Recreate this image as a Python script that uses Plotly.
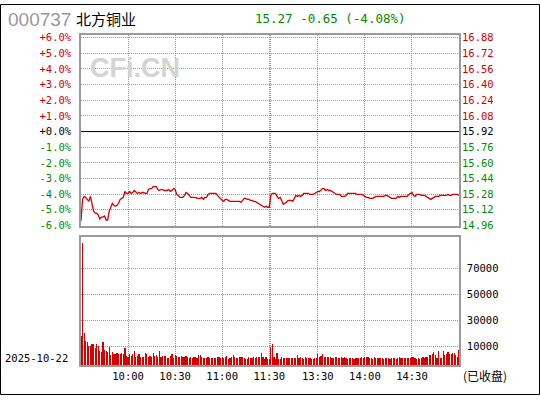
import plotly.graph_objects as go

# ---------------- data ----------------
CODE = "000737"
NAME = "北方铜业"
DATE = "2025-10-22"
STATUS = "(已收盘)"
PREV_CLOSE = 15.92
LAST = 15.27
CHANGE = -0.65
CHANGE_PCT = -4.08

# minute slots: 9:30..11:30 -> 0..120, 13:00..15:00 -> 121..241
TIME_TICKS = [30, 60, 90, 120, 121, 151, 181, 211]
TIME_LABELS = ["10:00", "10:30", "11:00", "11:30", "", "13:30", "14:00", "14:30"]

PCT_LEVELS = [6, 5, 4, 3, 2, 1, 0, -1, -2, -3, -4, -5, -6]
PCT_LABELS = ["+6.0%", "+5.0%", "+4.0%", "+3.0%", "+2.0%", "+1.0%", "+0.0%",
              "-1.0%", "-2.0%", "-3.0%", "-4.0%", "-5.0%", "-6.0%"]
PRICE_LABELS = ["16.88", "16.72", "16.56", "16.40", "16.24", "16.08", "15.92",
                "15.76", "15.60", "15.44", "15.28", "15.12", "14.96"]

VOL_TICKS = [10000, 30000, 50000, 70000]
VOL_LABELS = ["10000", "30000", "50000", "70000"]

PRICE_AM = [
    15.01, 15.23, 15.26, 15.25, 15.23, 15.21, 15.26, 15.19, 15.11, 15.09,
    15.09, 15.07, 15.03, 15.05, 15.05, 15.06, 15.02, 15.02, 15.11, 15.15,
    15.19, 15.17, 15.16, 15.17, 15.19, 15.23, 15.24, 15.25, 15.31, 15.29,
    15.29, 15.31, 15.29, 15.30, 15.32, 15.30, 15.29, 15.30, 15.29, 15.30,
    15.30, 15.29, 15.29, 15.33, 15.34, 15.34, 15.36, 15.36, 15.36, 15.33,
    15.32, 15.33, 15.33, 15.32, 15.32, 15.32, 15.33, 15.31, 15.32, 15.34,
    15.33, 15.28, 15.27, 15.25, 15.25, 15.25, 15.27, 15.30, 15.29, 15.27,
    15.25, 15.25, 15.25, 15.25, 15.24, 15.24, 15.24, 15.25, 15.23, 15.25,
    15.25, 15.28, 15.29, 15.29, 15.29, 15.29, 15.29, 15.27, 15.25, 15.23,
    15.22, 15.21, 15.23, 15.23, 15.22, 15.21, 15.21, 15.21, 15.21, 15.21,
    15.21, 15.21, 15.20, 15.22, 15.24, 15.24, 15.23, 15.23, 15.22, 15.22,
    15.21, 15.21, 15.20, 15.19, 15.18, 15.17, 15.16, 15.15, 15.16, 15.15,
    15.15,
]
PRICE_PM = [
    15.27, 15.29, 15.29, 15.29, 15.26, 15.24, 15.25, 15.22, 15.18, 15.19,
    15.20, 15.22, 15.22, 15.22, 15.21, 15.25, 15.27, 15.26, 15.27, 15.26,
    15.27, 15.29, 15.29, 15.29, 15.29, 15.28, 15.28, 15.28, 15.29, 15.30,
    15.31, 15.31, 15.33, 15.34, 15.34, 15.32, 15.33, 15.32, 15.32, 15.31,
    15.30, 15.29, 15.28, 15.28, 15.28, 15.26, 15.26, 15.26, 15.27, 15.29,
    15.29, 15.29, 15.29, 15.29, 15.29, 15.28, 15.28, 15.28, 15.28, 15.27,
    15.26, 15.25, 15.25, 15.24, 15.24, 15.24, 15.25, 15.26, 15.26, 15.26,
    15.26, 15.26, 15.26, 15.27, 15.27, 15.26, 15.25, 15.24, 15.24, 15.24,
    15.24, 15.26, 15.25, 15.26, 15.26, 15.26, 15.26, 15.26, 15.28, 15.29,
    15.30, 15.27, 15.26, 15.28, 15.28, 15.28, 15.27, 15.27, 15.27, 15.26,
    15.25, 15.24, 15.23, 15.24, 15.25, 15.26, 15.26, 15.26, 15.27, 15.27,
    15.27, 15.27, 15.27, 15.28, 15.27, 15.27, 15.28, 15.28, 15.28, 15.28,
    15.27,
]

VOL_AM = [
    18200, 89200, 20500, 14500, 13700, 10800, 10800, 12300, 12300, 9300,
    12300, 10800, 7000, 6300, 13700, 7800, 7000, 6300, 10000, 4000,
    6300, 4800, 4800, 5500, 4800, 4800, 5500, 4800, 9300, 3300,
    2500, 4800, 3300, 4800, 6500, 2500, 3300, 4800, 2500, 2000,
    2500, 5000, 4800, 2500, 2800, 2500, 5000, 2800, 3500, 2500,
    6500, 2300, 3100, 3100, 3100, 1600, 1600, 3100, 4300, 1600,
    3500, 3100, 2300, 2300, 3100, 2300, 2300, 2800, 2300, 1800,
    2300, 1600, 2300, 2300, 1600, 3500, 3500, 2000, 1600, 1800,
    1600, 2000, 1600, 1600, 1600, 1600, 1600, 2000, 2000, 1600,
    2000, 1600, 2000, 3300, 1000, 1600, 2000, 3800, 2000, 1600,
    1600, 2000, 2000, 2000, 1600, 1000, 1000, 2000, 1600, 1600,
    2000, 1600, 2000, 2300, 2500, 5000, 2000, 1000, 2000, 1000,
    500,
]
VOL_PM = [
    9800, 12500,
    2000, 800, 5000, 1000, 800, 2500, 1600, 1600, 1600, 1600,
    1600, 1600, 1600, 1600, 1600, 3500, 1600, 2500, 1600, 1000,
    2000, 1600, 1600, 1600, 1000, 1000, 1600, 1600, 4300, 2500,
    3100, 4300, 2000, 2000, 2000, 2000, 2000, 1600, 1600, 2000,
    2000, 1600, 1600, 2000, 1600, 2000, 1600, 1000, 1600, 1600,
    1600, 1000, 1600, 1600, 1600, 1600, 2000, 1600, 2000, 2000,
    2000, 1600, 1600, 1000, 2000, 1600, 1600, 1600, 1600, 1600,
    1000, 1600, 1600, 1600, 1000, 1600, 1600, 1600, 1000, 1600,
    2000, 1600, 1600, 1600, 1600, 1600, 1600, 1600, 2000, 2000,
    1600, 1000, 1600, 1000, 1600, 2000, 1600, 2000, 2000, 3500,
    4000, 4600, 5800, 4000, 1500, 6500, 1500, 1500, 6500, 4000,
    4800, 5800, 4600, 4300, 5000, 5000, 4000, 2500, 7500,
]

# ---------------- styling / layout ----------------
W, H = 540, 400
PLOT_L, PLOT_R = 81, 459
PRICE_TOP, PRICE_BOT = 32, 227
VOL_TOP, VOL_BOT = 238, 369.3
PCT_RANGE = (-6.03, 6.155)          # visible percent range of the price panel
VOL_RANGE = (-4200, 94000)          # visible range of the volume panel

RED = "#d40000"
GREEN = "#008c00"
TXT_RED = "#d00000"
GRID = "#999999"
FRAME = "#9a9a9a"
MONO = "DejaVu Sans Mono"
CJK = "Noto Sans CJK SC"


def px_x(x):
    return (x - PLOT_L) / (PLOT_R - PLOT_L)


def px_y(y):
    return 1 - y / H


price = PRICE_AM + PRICE_PM
volume = VOL_AM + VOL_PM
assert len(price) == 242 and len(volume) == 242
slots = list(range(len(price)))
x_max = len(price) - 1

levels = [PREV_CLOSE * (1 + p / 100) for p in PCT_LEVELS]
p_lo = PREV_CLOSE * (1 + PCT_RANGE[0] / 100)
p_hi = PREV_CLOSE * (1 + PCT_RANGE[1] / 100)


def colour_for(p):
    return TXT_RED if p > 0 else ("#000000" if p == 0 else GREEN)


pct_text = [f'<span style="color:{colour_for(p)}">{t}</span>' for p, t in zip(PCT_LEVELS, PCT_LABELS)]
price_text = [f'<span style="color:{colour_for(p)}">{t}</span>' for p, t in zip(PCT_LEVELS, PRICE_LABELS)]

fig = go.Figure()
fig.add_trace(go.Scatter(x=slots, y=price, mode="lines", line=dict(color=RED, width=1.3),
                         xaxis="x", yaxis="y", hoverinfo="skip"))
fig.add_trace(go.Scatter(x=[0, x_max], y=[p_lo, p_hi], mode="markers", marker=dict(opacity=0),
                         xaxis="x", yaxis="y3", hoverinfo="skip"))
fig.add_trace(go.Bar(x=slots, y=[v - VOL_RANGE[0] for v in volume], base=VOL_RANGE[0], width=0.12,
                     marker=dict(color=RED, line=dict(width=0)), xaxis="x2", yaxis="y2",
                     hoverinfo="skip"))

grid = dict(showgrid=True, gridcolor=GRID, gridwidth=1, griddash="1px,1px")
frame = dict(showline=True, linecolor=FRAME, linewidth=1.5, mirror=True, zeroline=False, ticks="")
tick_font = dict(family=MONO, size=10.5, color="#000000")

fig.update_layout(
    width=W, height=H, margin=dict(l=PLOT_L, r=W - PLOT_R, t=0, b=0, pad=0),
    paper_bgcolor="white", plot_bgcolor="white", showlegend=False, hovermode=False,
    bargap=0, bargroupgap=0,
    xaxis=dict(domain=[0, 1], anchor="y", range=[0, x_max], tickvals=TIME_TICKS,
               showticklabels=False, **grid, **frame),
    yaxis=dict(domain=[px_y(PRICE_BOT), px_y(PRICE_TOP)], anchor="x", range=[p_lo, p_hi],
               tickvals=levels, ticktext=pct_text, side="left", tickfont=tick_font,
               ticklabelstandoff=6, **grid, **frame),
    yaxis3=dict(overlaying="y", anchor="x", side="right", range=[p_lo, p_hi],
                tickvals=levels, ticktext=price_text, showgrid=False, zeroline=False,
                showline=False, ticks="", tickfont=tick_font, ticklabelstandoff=2),
    xaxis2=dict(domain=[0, 1], anchor="y2", range=[0, x_max], tickvals=TIME_TICKS,
                ticktext=TIME_LABELS, tickfont=tick_font, ticklabelstandoff=1, **grid, **frame),
    yaxis2=dict(domain=[px_y(VOL_BOT), px_y(VOL_TOP)], anchor="x2", side="right",
                range=list(VOL_RANGE), tickvals=VOL_TICKS, ticktext=VOL_LABELS,
                tickfont=tick_font, ticklabelstandoff=4, **grid, **frame),
)

# previous-close line
fig.add_shape(type="line", xref="x", yref="y", x0=0, x1=x_max, y0=PREV_CLOSE, y1=PREV_CLOSE,
              line=dict(color="#000000", width=1))
# outer border
fig.add_shape(type="rect", xref="paper", yref="paper", x0=px_x(0.5), x1=px_x(539.5),
              y0=px_y(399.5), y1=px_y(0.5), line=dict(color="#000000", width=1))


def note(text, x, y, font, xanchor="left"):
    fig.add_annotation(text=text, x=px_x(x), y=px_y(y), xref="paper", yref="paper",
                       xanchor=xanchor, yanchor="middle", showarrow=False, font=font, borderpad=0)


note(CODE, 7, 16, dict(family="Liberation Sans", size=19, color="#999999"))
note(NAME, 75, 15, dict(family=CJK, size=15, color="#000000"))
note(f"{LAST:.2f} {CHANGE:.2f} ({CHANGE_PCT:.2f}%)", 254, 15, dict(family=MONO, size=12.5, color=GREEN))
note("<b>CFi.CN</b>", 89, 65, dict(family="Liberation Sans", size=27, color="#d4d4d4"))
note(DATE, 4, 362, dict(family=MONO, size=10.5, color="#000000"))
note(STATUS, 462, 380, dict(family=CJK, size=12, color="#000000"))

fig.write_html("out.html", config={"displayModeBar": False},
               post_script="document.body.style.margin='0';document.body.style.padding='0';")
